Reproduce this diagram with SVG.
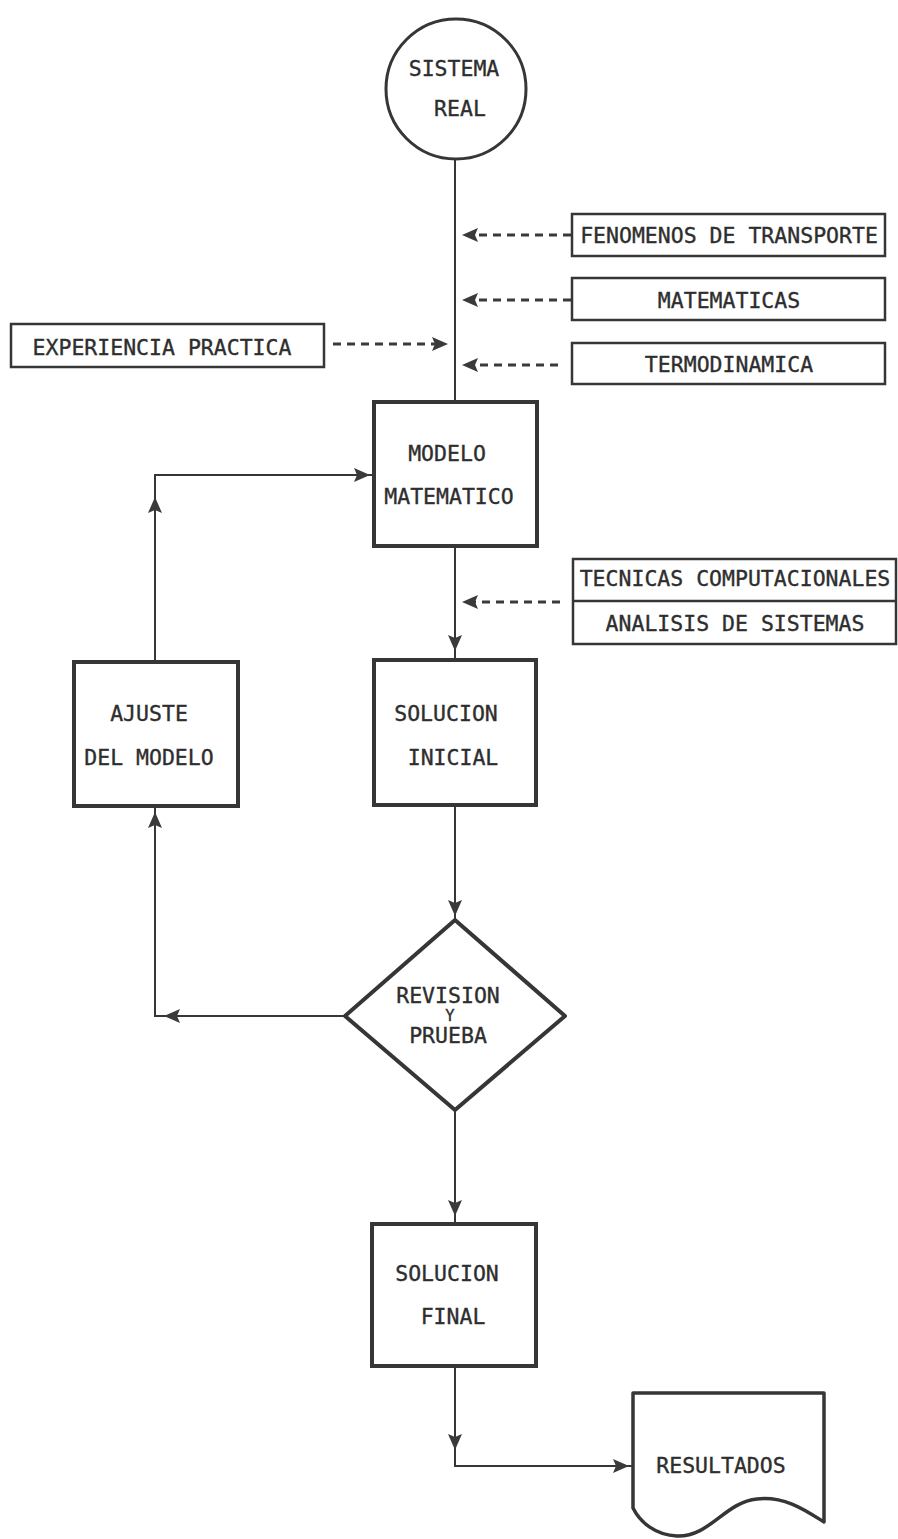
<svg xmlns="http://www.w3.org/2000/svg" xmlns:xlink="http://www.w3.org/1999/xlink" width="898" height="1539" viewBox="0 0 898 1539">
  <style>
    .txt { font-family: "DejaVu Sans Mono", "Liberation Mono", monospace; font-size: 21.5px; fill: #2e2e2e; stroke: #2e2e2e; stroke-width: 0.35; text-anchor: middle; }
    .small { font-size: 15.5px; }
    .box { fill: #ffffff; stroke: #363636; stroke-width: 4; }
    .lbl { fill: #ffffff; stroke: #363636; stroke-width: 2.5; }
    .wire { fill: none; stroke: #363636; stroke-width: 2; }
    .dash { fill: none; stroke: #3a3a3a; stroke-width: 2.8; stroke-dasharray: 8 6; }
    .head { fill: #3a3a3a; }
  </style>
  <defs>
    <!-- arrowhead with its tip at the origin, pointing along +x -->
    <path id="ah" class="head" d="M0,0 L-16,-7 L-13,0 L-16,7 Z"/>
  </defs>
  <rect width="898" height="1539" fill="#ffffff"/>

  <g id="connectors">
    <path class="wire" d="M455,160 V400"/>
    <path class="wire" d="M455,548 V659"/>
    <path class="wire" d="M455,807 V920"/>
    <path class="wire" d="M455,1110 V1222"/>
    <path class="wire" d="M455,1368 V1466 H632"/>
    <path class="wire" d="M345,1016 H155 V808"/>
    <path class="wire" d="M155,660 V475 H372"/>

    <path class="dash" d="M571,235 H472"/>
    <path class="dash" d="M571,300 H472"/>
    <path class="dash" d="M558,365 H472"/>
    <path class="dash" d="M333,344 H438"/>
    <path class="dash" d="M560,602 H472"/>

    <use xlink:href="#ah" transform="translate(462,235) rotate(180)"/>
    <use xlink:href="#ah" transform="translate(462,300) rotate(180)"/>
    <use xlink:href="#ah" transform="translate(462,365) rotate(180)"/>
    <use xlink:href="#ah" transform="translate(448,344)"/>
    <use xlink:href="#ah" transform="translate(462,602) rotate(180)"/>
    <use xlink:href="#ah" transform="translate(455,651) rotate(90)"/>
    <use xlink:href="#ah" transform="translate(370,475)"/>
    <use xlink:href="#ah" transform="translate(155,497) rotate(-90)"/>
    <use xlink:href="#ah" transform="translate(155,812) rotate(-90)"/>
    <use xlink:href="#ah" transform="translate(164,1016) rotate(180)"/>
    <use xlink:href="#ah" transform="translate(455,916) rotate(90)"/>
    <use xlink:href="#ah" transform="translate(455,1216) rotate(90)"/>
    <use xlink:href="#ah" transform="translate(455,1450) rotate(90)"/>
    <use xlink:href="#ah" transform="translate(629,1466)"/>
  </g>

  <g id="sistema-real">
    <circle cx="456" cy="89" r="70" fill="#ffffff" stroke="#363636" stroke-width="3"/>
    <text class="txt" x="454" y="76">SISTEMA</text>
    <text class="txt" x="460" y="116">REAL</text>
  </g>

  <g id="fenomenos">
    <rect class="lbl" x="572" y="214" width="313" height="42"/>
    <text class="txt" x="729" y="243">FENOMENOS DE TRANSPORTE</text>
  </g>

  <g id="matematicas">
    <rect class="lbl" x="572" y="278" width="313" height="42"/>
    <text class="txt" x="729" y="308">MATEMATICAS</text>
  </g>

  <g id="termodinamica">
    <rect class="lbl" x="572" y="343" width="313" height="41"/>
    <text class="txt" x="729" y="372">TERMODINAMICA</text>
  </g>

  <g id="experiencia">
    <rect class="lbl" x="11" y="324" width="313" height="43"/>
    <text class="txt" x="162" y="355">EXPERIENCIA PRACTICA</text>
  </g>

  <g id="modelo">
    <rect class="box" x="374" y="402" width="163" height="144"/>
    <text class="txt" x="447" y="461">MODELO</text>
    <text class="txt" x="449" y="504">MATEMATICO</text>
  </g>

  <g id="tecnicas">
    <rect class="lbl" x="573" y="559" width="323" height="85"/>
    <line x1="573" y1="601" x2="896" y2="601" stroke="#363636" stroke-width="2.5"/>
    <text class="txt" x="735" y="586">TECNICAS COMPUTACIONALES</text>
    <text class="txt" x="735" y="631">ANALISIS DE SISTEMAS</text>
  </g>

  <g id="ajuste">
    <rect class="box" x="74" y="662" width="164" height="144"/>
    <text class="txt" x="149" y="721">AJUSTE</text>
    <text class="txt" x="149" y="765">DEL MODELO</text>
  </g>

  <g id="solucion-inicial">
    <rect class="box" x="374" y="660" width="162" height="145"/>
    <text class="txt" x="446" y="721">SOLUCION</text>
    <text class="txt" x="453" y="765">INICIAL</text>
  </g>

  <g id="revision">
    <path class="box" d="M455,920 L565,1016 L455,1110 L345,1016 Z" stroke-linejoin="round"/>
    <text class="txt" x="448" y="1003">REVISION</text>
    <text class="txt small" x="450" y="1021">Y</text>
    <text class="txt" x="448" y="1043">PRUEBA</text>
  </g>

  <g id="solucion-final">
    <rect class="box" x="372" y="1224" width="164" height="142"/>
    <text class="txt" x="447" y="1281">SOLUCION</text>
    <text class="txt" x="453" y="1324">FINAL</text>
  </g>

  <g id="resultados">
    <path d="M633,1393 H824 V1522 C805,1510 785,1496 757,1499 C725,1502 710,1537 677,1536 C655,1535 640,1522 633,1508 Z" fill="#ffffff" stroke="#363636" stroke-width="3.5" stroke-linejoin="round"/>
    <text class="txt" x="721" y="1473">RESULTADOS</text>
  </g>
</svg>
